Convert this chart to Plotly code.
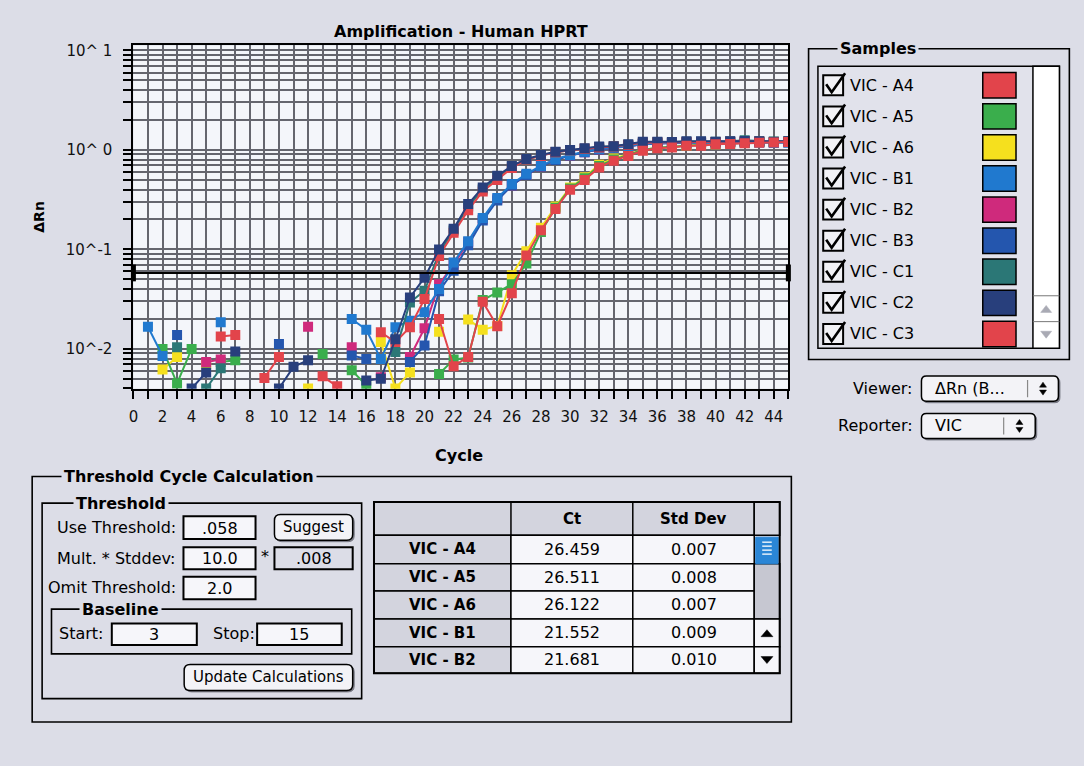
import plotly.graph_objects as go

# ---------------------------------------------------------------- data
CYCLES = list(range(1, 46))

# Delta Rn per cycle (None = not drawable on a log scale)
VIC_A4 = [None, None, None, None, None, 0.0133, 0.0138, None, None, None,
          None, None, None, None, None, None, None, None, None, None,
          0.0200, 0.0067, 0.0083, 0.0298, 0.0169, 0.0363, 0.087, 0.156, 0.255, 0.398,
          0.50, 0.667, 0.78, 0.87, 0.98, 1.04, 1.06, 1.10, 1.10, 1.14,
          1.15, 1.17, 1.18, 1.19, 1.20]
VIC_A5 = [None, 0.0100, 0.0045, 0.0100, None, 0.0074, 0.0077, None, None, None,
          None, None, 0.0089, None, 0.0061, 0.0043, None, None, None, None,
          0.0056, 0.0078, 0.0082, 0.0310, 0.0369, 0.0447, 0.072, 0.150, 0.262, 0.41,
          0.52, 0.69, 0.80, 0.89, 1.00, 1.05, 1.08, 1.10, 1.12, 1.15,
          1.16, 1.18, 1.20, 1.21, 1.21]
VIC_A6 = [None, 0.0062, 0.0083, None, 0.0070, None, None, None, None, None,
          None, 0.0040, None, None, None, None, 0.0117, 0.0040, 0.0058, None,
          0.0149, None, 0.0197, 0.0156, 0.0170, 0.055, 0.096, 0.165, 0.27, 0.42,
          0.53, 0.71, 0.82, 0.90, 1.00, 1.05, 1.07, 1.11, 1.12, 1.14,
          1.16, 1.18, 1.21, 1.20, 1.21]
VIC_B1 = [0.0167, 0.0085, None, None, None, 0.0185, None, None, None, None,
          None, None, None, None, 0.0200, 0.0156, 0.0079, 0.0165, 0.0192, 0.0233,
          0.040, 0.074, 0.121, 0.207, 0.329, 0.454, 0.575, 0.69, 0.81, 0.89,
          0.96, 1.02, 1.06, 1.09, 1.15, 1.17, 1.18, 1.18, 1.19, 1.19,
          1.20, 1.20, 1.19, 1.18, 1.19]
VIC_B2 = [None, None, None, None, 0.0074, 0.0078, None, None, None, None,
          None, 0.0167, None, None, 0.0104, None, 0.0052, None, 0.0083, 0.0161,
          0.0447, 0.070, 0.118, 0.200, 0.320, 0.440, 0.560, 0.680, 0.800, 0.880,
          0.95, 1.01, 1.05, 1.08, 1.14, 1.17, 1.18, 1.19, 1.19, 1.20,
          1.20, 1.21, 1.20, 1.19, 1.20]
VIC_B3 = [None, None, 0.0138, None, None, None, None, None, None, 0.0112,
          None, None, None, None, 0.0086, 0.0079, None, None, 0.0074, 0.0108,
          0.038, 0.061, 0.110, 0.195, 0.310, 0.440, 0.560, 0.680, 0.790, 0.880,
          0.95, 1.01, 1.05, 1.09, 1.14, 1.16, 1.17, 1.18, 1.18, 1.19,
          1.20, 1.19, 1.19, 1.18, 1.19]
VIC_C1 = [None, None, 0.0104, None, 0.0040, 0.0064, None, None, None, None,
          None, None, None, None, None, None, None, 0.0093, 0.0293, 0.0384,
          0.092, 0.155, 0.27, 0.40, 0.53, 0.68, 0.80, 0.88, 0.95, 0.99,
          1.03, 1.07, 1.09, 1.13, 1.19, 1.20, 1.20, 1.21, 1.21, 1.21,
          1.22, 1.25, 1.22, 1.21, 1.22]
VIC_C2 = [None, None, None, 0.0040, 0.0058, None, 0.0094, None, None, 0.0040,
          0.0066, 0.0077, None, None, None, 0.0048, 0.0050, 0.0125, 0.0329, 0.052,
          0.100, 0.161, 0.286, 0.42, 0.55, 0.69, 0.81, 0.89, 0.96, 1.00,
          1.04, 1.08, 1.09, 1.14, 1.21, 1.21, 1.20, 1.22, 1.22, 1.21,
          1.22, 1.23, 1.22, 1.21, 1.22]
VIC_C3 = [None, None, None, None, None, None, None, None, 0.0051, 0.0083,
          None, None, 0.0053, 0.0042, None, None, 0.0147, 0.0117, 0.0165, 0.0317,
          0.086, 0.147, 0.248, 0.383, 0.50, 0.66, 0.80, 0.87, 0.95, 0.99,
          1.03, 1.06, 1.08, 1.12, 1.18, 1.19, 1.19, 1.20, 1.20, 1.20,
          1.21, 1.22, 1.21, 1.20, 1.21]

SAMPLE_NAMES = ["VIC - A4", "VIC - A5", "VIC - A6", "VIC - B1", "VIC - B2",
                "VIC - B3", "VIC - C1", "VIC - C2", "VIC - C3"]
SAMPLE_COLORS = ["#e2444b", "#3aae4c", "#f5e01e", "#2079cf", "#cf2a7c",
                 "#2456ae", "#2b7776", "#283f7c", "#e2444b"]
SAMPLE_VALUES = [VIC_A4, VIC_A5, VIC_A6, VIC_B1, VIC_B2, VIC_B3, VIC_C1, VIC_C2, VIC_C3]
DRAW_ORDER = [2, 1, 4, 5, 3, 6, 8, 7, 0]

THRESHOLD = 0.058
STDDEV_MULT = "10.0"
STDDEV = ".008"
OMIT_THRESHOLD = "2.0"
BASELINE_START = "3"
BASELINE_STOP = "15"

TABLE_SAMPLES = ["VIC - A4", "VIC - A5", "VIC - A6", "VIC - B1", "VIC - B2"]
CT_VALUES = ["26.459", "26.511", "26.122", "21.552", "21.681"]
STD_DEV_VALUES = ["0.007", "0.008", "0.007", "0.009", "0.010"]

X_TICKS = list(range(0, 46))
X_TICK_LABELS = [str(c) if (c % 2 == 0 and c <= 44) else "" for c in X_TICKS]
Y_DECADES = [0.01, 0.1, 1.0, 10.0]
Y_DECADE_LABELS = ["10^-2", "10^-1", "10^ 0", "10^ 1"]

# ---------------------------------------------------------------- style
W, H = 1084, 766
FONT = "DejaVu Sans"
BG = "#dcdde7"
PLOT_BG = "#f4f6fa"
GRID = "#65666e"
FIELD = "#f6f6fa"
CELL_GRAY = "#d3d4de"


def X(px):
    return px / W


def Y(py):
    return 1 - py / H


shapes = []
annotations = []


def rect(x0, y0, x1, y1, fill=None, color="black", width=1.5):
    shapes.append(dict(type="rect", xref="paper", yref="paper",
                       x0=X(x0), x1=X(x1), y0=Y(y1), y1=Y(y0),
                       fillcolor=fill or "rgba(0,0,0,0)",
                       line=dict(color=color, width=width), layer="above"))


def line(x0, y0, x1, y1, color="black", width=1.5):
    shapes.append(dict(type="line", xref="paper", yref="paper",
                       x0=X(x0), x1=X(x1), y0=Y(y0), y1=Y(y1),
                       line=dict(color=color, width=width), layer="above"))


def poly(points, fill=None, color="black", width=1.5, closed=True):
    d = "M " + " L ".join(f"{X(a):.5f},{Y(b):.5f}" for a, b in points)
    if closed:
        d += " Z"
    shapes.append(dict(type="path", xref="paper", yref="paper", path=d,
                       fillcolor=fill or "rgba(0,0,0,0)",
                       line=dict(color=color, width=width), layer="above"))


def rrect(x0, y0, x1, y1, r, fill, color="black", width=1.5):
    def p(a, b):
        return f"{X(a):.5f},{Y(b):.5f}"
    d = (f"M {p(x0 + r, y0)} L {p(x1 - r, y0)} Q {p(x1, y0)} {p(x1, y0 + r)} "
         f"L {p(x1, y1 - r)} Q {p(x1, y1)} {p(x1 - r, y1)} "
         f"L {p(x0 + r, y1)} Q {p(x0, y1)} {p(x0, y1 - r)} "
         f"L {p(x0, y0 + r)} Q {p(x0, y0)} {p(x0 + r, y0)} Z")
    shapes.append(dict(type="path", xref="paper", yref="paper", path=d,
                       fillcolor=fill, line=dict(color=color, width=width),
                       layer="above"))


def text(x, y, s, size=16, bold=False, anchor="left", color="black", bg=None, angle=0):
    annotations.append(dict(xref="paper", yref="paper", x=X(x), y=Y(y),
                            text=f"<b>{s}</b>" if bold else s, showarrow=False,
                            xanchor=anchor, yanchor="middle", textangle=angle,
                            font=dict(family=FONT, size=size, color=color),
                            bgcolor=bg, borderpad=2))


def button(x0, y0, x1, y1, label):
    rrect(x0 + 1.5, y0 + 1.5, x1 + 1.5, y1 + 1.5, 6, "#777883", "#777883", 1)
    rrect(x0, y0, x1, y1, 6, "#f3f3f7", "black", 1.5)
    text((x0 + x1) / 2, (y0 + y1) / 2, label, size=15, anchor="center")


def field(x0, y0, x1, y1, value, fill=FIELD):
    rect(x0, y0, x1, y1, fill=fill, width=2)
    text((x0 + x1) / 2, (y0 + y1) / 2 + 0.5, value, size=16, anchor="center")


def group(x0, y0, x1, y1, title, tx):
    rect(x0, y0, x1, y1, width=1.6)
    text(tx, y0, title, size=16, bold=True, bg=BG)


def popup(x0, y0, x1, y1, divider, label):
    rrect(x0 + 1.5, y0 + 1.5, x1 + 1.5, y1 + 1.5, 5, "#777883", "#777883", 1)
    rrect(x0, y0, x1, y1, 5, "#f3f3f7", "black", 1.5)
    line(divider, y0 + 4, divider, y1 - 4, color="#888", width=1.2)
    cx, cy = (divider + x1) / 2, (y0 + y1) / 2
    poly([(cx - 3.5, cy - 1.5), (cx + 3.5, cy - 1.5), (cx, cy - 6.5)], fill="black", width=0.5)
    poly([(cx - 3.5, cy + 1.5), (cx + 3.5, cy + 1.5), (cx, cy + 6.5)], fill="black", width=0.5)
    text(x0 + 11, cy, label, size=16)


# ---------------------------------------------------------------- chart
fig = go.Figure()

for i in DRAW_ORDER:
    fig.add_trace(go.Scatter(
        x=CYCLES, y=SAMPLE_VALUES[i], mode="lines+markers", name=SAMPLE_NAMES[i],
        line=dict(color=SAMPLE_COLORS[i], width=2),
        marker=dict(symbol="square", size=10, color=SAMPLE_COLORS[i], line=dict(width=0)),
        connectgaps=False, showlegend=False, hoverinfo="skip"))

# threshold line and its end handles
fig.add_trace(go.Scatter(x=[0, 45], y=[THRESHOLD, THRESHOLD], mode="lines",
                         line=dict(color="black", width=2), showlegend=False,
                         hoverinfo="skip"))
fig.add_trace(go.Scatter(x=[0, 45], y=[THRESHOLD, THRESHOLD], mode="markers",
                         marker=dict(symbol="line-ns", size=12,
                                     line=dict(color="black", width=5)),
                         cliponaxis=False, showlegend=False, hoverinfo="skip"))

y_tickvals, y_ticktext = [], []
for d, lab in zip([0.001] + Y_DECADES[:-1], [""] + Y_DECADE_LABELS[:-1]):
    for k in range(1, 10):
        v = round(d * k, 6)
        if v >= 0.004:
            y_tickvals.append(v)
            y_ticktext.append(lab if k == 1 else "")
y_tickvals.append(Y_DECADES[-1])
y_ticktext.append(Y_DECADE_LABELS[-1])

axis_common = dict(showline=True, linecolor="black", linewidth=2, mirror=True,
                   ticks="outside", ticklen=8, tickwidth=2, tickcolor="black",
                   showgrid=True, gridcolor=GRID, gridwidth=1.7, zeroline=False,
                   tickfont=dict(family=FONT, size=15, color="#111"))

fig.update_layout(
    width=W, height=H, margin=dict(l=0, r=0, t=0, b=0),
    paper_bgcolor=BG, plot_bgcolor=PLOT_BG, showlegend=False,
    xaxis=dict(domain=[X(129), X(787)], range=[0, 45], tickmode="array",
               tickvals=X_TICKS, ticktext=X_TICK_LABELS, ticklabelstandoff=5,
               **axis_common),
    yaxis=dict(type="log", domain=[Y(386.7), Y(41.7)], range=[-2.4, 1.05],
               tickmode="array", tickvals=y_tickvals, ticktext=y_ticktext,
               ticklabelstandoff=8, **axis_common),
)

text(458, 28, "Amplification - Human HPRT", size=16, bold=True, anchor="center")
text(456, 454, "Cycle", size=16, bold=True, anchor="center")
text(34, 214, "\u0394Rn", size=14, bold=True, anchor="center", angle=-90)

# ---------------------------------------------------------------- samples panel
group(807.3, 45, 1069.3, 357.3, "Samples", 836)
rect(816.7, 62.7, 1059.3, 346, fill="#e1e2eb", width=1.5)
rect(1032.7, 62.7, 1059.3, 346, fill="white", width=1.5)
line(1032.7, 293.3, 1059.3, 293.3, color="#777", width=1)
line(1032.7, 319.3, 1059.3, 319.3, color="#777", width=1)
poly([(1040.5, 310), (1051.5, 310), (1046, 303)], fill="#a9aab4", color="#a9aab4", width=0.5)
poly([(1040.5, 329), (1051.5, 329), (1046, 336)], fill="#a9aab4", color="#a9aab4", width=0.5)

for i, (name, color) in enumerate(zip(SAMPLE_NAMES, SAMPLE_COLORS)):
    ry = 81.7 + i * 31.25
    rect(822, ry - 10, 842, ry + 10, fill="#f2f2f6", width=2)
    poly([(825, ry - 1), (830.5, ry + 7), (844, ry - 12)], width=2.6, closed=False)
    text(846, ry, name, size=16)
    rect(982.3, ry - 12.8, 1015.7, ry + 12.8, fill=color, width=1.5)

text(915, 386.5, "Viewer:", size=16, anchor="right")
popup(920.7, 374, 1058.3, 399.3, 1027.3, "\u0394Rn (B...")
text(915, 424, "Reporter:", size=16, anchor="right")
popup(920.7, 411.7, 1035, 436.7, 1003.3, "VIC")

# ---------------------------------------------------------------- threshold panel
group(27.3, 475, 790, 721.7, "Threshold Cycle Calculation", 56)
group(37.3, 501.7, 358.3, 698.3, "Threshold", 68)

text(175, 526.7, "Use Threshold:", size=16, anchor="right")
field(179.3, 515, 251.7, 537.7, f"{THRESHOLD:.3f}".lstrip("0"))
button(270.7, 513.3, 349.3, 539, "Suggest")

text(175, 557.3, "Mult. * Stddev:", size=16, anchor="right")
field(179.3, 546, 251.7, 568.3, STDDEV_MULT)
text(261.5, 555, "*", size=16, anchor="center")
field(270.7, 546, 349.3, 568.3, STDDEV, fill=BG)

text(175, 586.7, "Omit Threshold:", size=16, anchor="right")
field(179.3, 575.7, 251.7, 598.3, OMIT_THRESHOLD)

group(46.7, 608.3, 348.3, 653.3, "Baseline", 74)
text(51, 633.3, "Start:", size=16)
field(107.3, 622.7, 192.7, 644.3, BASELINE_START)
text(206, 633.3, "Stop:", size=16)
field(253.3, 622.7, 338.3, 644.3, BASELINE_STOP)

button(180, 664, 349.3, 690, "Update Calculations")

# ---------------------------------------------------------------- Ct table
col_x = [370.7, 508.3, 630.7, 752.7, 778.3]
row_y = [500.7, 534, 562.7, 590, 618.3, 646, 672.7]

rect(col_x[0], row_y[0], col_x[3], row_y[1], fill=CELL_GRAY, width=1.5)
line(col_x[1], row_y[0], col_x[1], row_y[1], width=1.5)
line(col_x[2], row_y[0], col_x[2], row_y[1], width=1.5)
rect(col_x[3], row_y[0], col_x[4], row_y[1], fill=CELL_GRAY, width=1.5)
text((col_x[1] + col_x[2]) / 2, (row_y[0] + row_y[1]) / 2, "Ct", size=15, bold=True, anchor="center")
text((col_x[2] + col_x[3]) / 2, (row_y[0] + row_y[1]) / 2, "Std Dev", size=15, bold=True, anchor="center")

for r, (name, ct, sd) in enumerate(zip(TABLE_SAMPLES, CT_VALUES, STD_DEV_VALUES)):
    y0, y1 = row_y[r + 1], row_y[r + 2]
    yc = (y0 + y1) / 2
    rect(col_x[0], y0, col_x[1], y1, fill=CELL_GRAY, width=1.5)
    rect(col_x[1], y0, col_x[2], y1, fill=FIELD, width=1.5)
    rect(col_x[2], y0, col_x[3], y1, fill=FIELD, width=1.5)
    text((col_x[0] + col_x[1]) / 2, yc, name, size=15, bold=True, anchor="center")
    text((col_x[1] + col_x[2]) / 2, yc, ct, size=16, anchor="center")
    text((col_x[2] + col_x[3]) / 2, yc, sd, size=16, anchor="center")

# table scroll bar
rect(col_x[3], row_y[2], col_x[4], row_y[4], fill="#c6c7d1", width=1.5)
rect(col_x[3] + 1.5, row_y[1] + 2, col_x[4] - 1.5, row_y[2], fill="#2a86d6", color="#2a86d6", width=1)
for k in range(4):
    yy = row_y[1] + 7 + k * 4
    line(col_x[3] + 8, yy, col_x[4] - 8, yy, color="white", width=1.3)
rect(col_x[3], row_y[4], col_x[4], row_y[5], fill=FIELD, width=1.5)
rect(col_x[3], row_y[5], col_x[4], row_y[6], fill=FIELD, width=1.5)
cx = (col_x[3] + col_x[4]) / 2
poly([(cx - 6, 636), (cx + 6, 636), (cx, 629)], fill="black", width=0.5)
poly([(cx - 6, 656), (cx + 6, 656), (cx, 663)], fill="black", width=0.5)
rect(col_x[0], row_y[0], col_x[4], row_y[6], width=2)

fig.update_layout(shapes=shapes, annotations=annotations)
fig.write_html("out.html")
